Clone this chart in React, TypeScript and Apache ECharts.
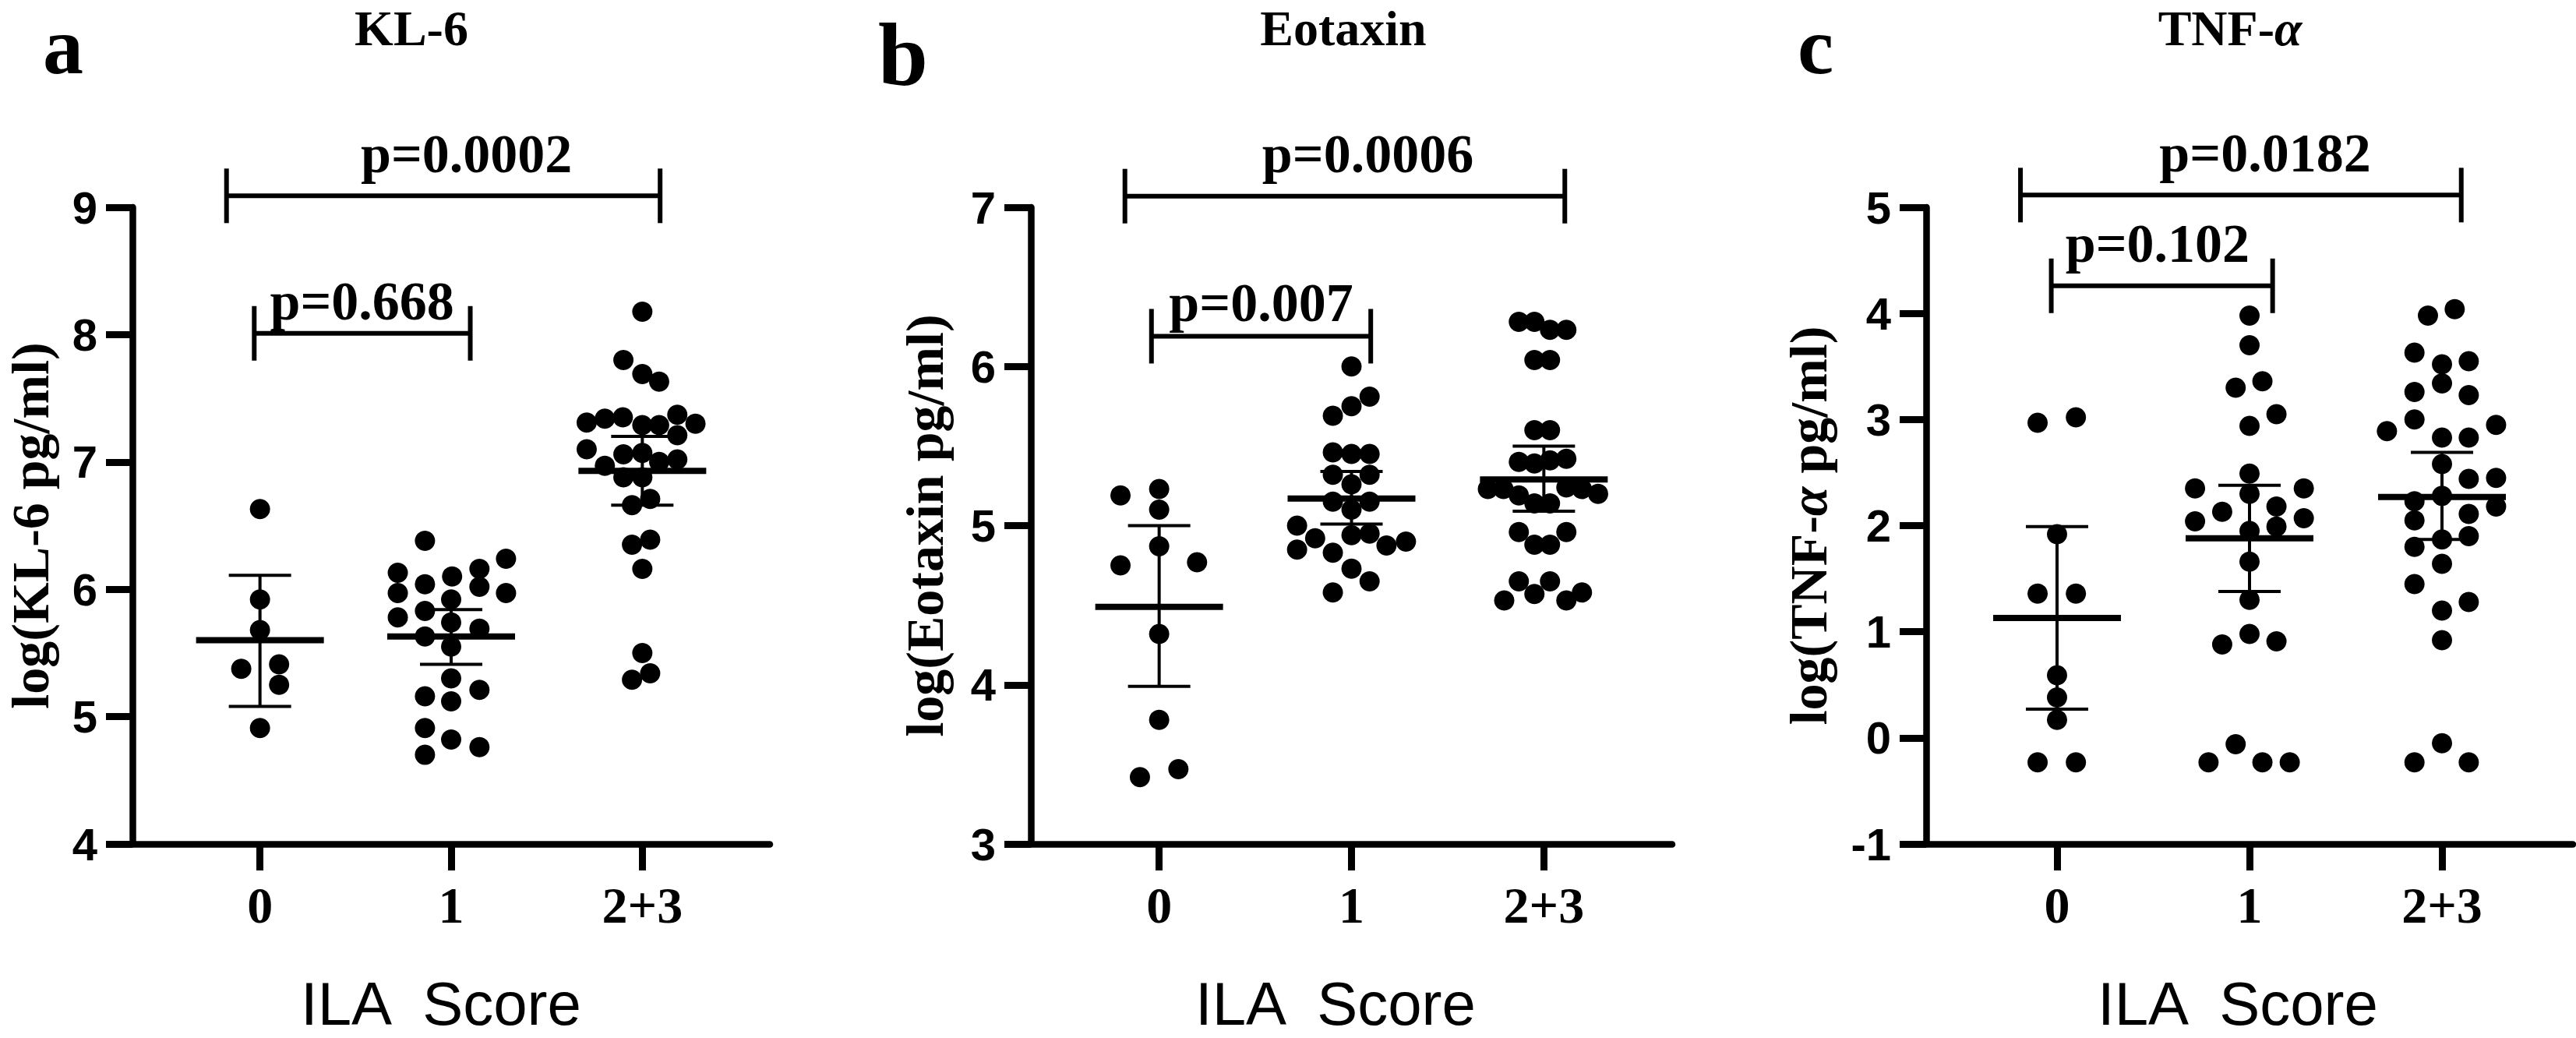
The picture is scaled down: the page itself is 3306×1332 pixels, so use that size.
import React, { useEffect, useRef } from "react";
import * as echarts from "echarts";

// ---------- shared ----------
const categories = ["0", "1", "2+3"];
const SERIF = '"Liberation Serif", "Times New Roman", serif';
const SANS = '"Liberation Sans", Arial, sans-serif';

// ---------- Panel a : KL-6 ----------
const kl6G0Values = [6.63, 5.92, 5.68, 5.375, 5.41, 5.25, 4.91];
const kl6G0Jitter = [0, 0, 0, -0.098, 0.1, 0.1, 0];
const kl6G1Values = [6.38, 6.24, 6.13, 6.16, 6.1, 6.04, 5.97, 6.02, 5.97, 5.92, 5.83, 5.78, 5.74, 5.69, 5.63, 5.55, 5.3, 5.21, 5.16, 5.12, 4.91, 4.82, 4.76, 4.7];
const kl6G1Jitter = [-0.137, 0.287, -0.279, 0.148, 0.005, -0.137, -0.279, 0.148, 0.287, 0, -0.137, -0.279, 0, 0.148, -0.137, 0, 0, 0.148, -0.137, 0, -0.137, 0, 0.148, -0.137];
const kl6G2Values = [8.18, 7.8, 7.69, 7.63, 7.31, 7.34, 7.35, 7.29, 7.29, 7.37, 7.3, 7.21, 7.1, 7.06, 7.07, 6.97, 7.0, 7.02, 6.88, 6.88, 6.71, 6.66, 6.39, 6.35, 6.16, 5.5, 5.34, 5.29];
const kl6G2Jitter = [0, -0.099, 0, 0.088, -0.291, -0.196, -0.102, 0, 0.088, 0.183, 0.278, 0.183, -0.291, -0.099, 0, -0.196, 0.088, 0.183, -0.099, 0, 0.041, -0.054, 0.041, -0.054, 0, 0, 0.041, -0.054];
const kl6Mean = [5.6, 5.63, 6.93];
const kl6SdHigh = [6.11, 5.84, 7.2];
const kl6SdLow = [5.08, 5.41, 6.66];
const kl6PLabels = ["p=0.668", "p=0.0002"];
const kl6BracketFrom = [-0.03, -0.175];
const kl6BracketTo = [1.1, 2.093];
const kl6BracketY = [8.01, 9.09];
const kl6PTextX = [0.534, 1.08];
const kl6PTextY = [8.263, 9.419];

// ---------- Panel b : Eotaxin ----------
const eoG0Values = [5.19, 5.23, 5.1, 4.87, 4.75, 4.77, 4.32, 3.78, 3.42, 3.47];
const eoG0Jitter = [-0.201, 0, 0, 0, -0.201, 0.197, 0, 0, -0.1, 0.1];
const eoG1Values = [6.0, 5.81, 5.75, 5.69, 5.46, 5.45, 5.45, 5.32, 5.32, 5.26, 5.15, 5.15, 5.1, 5.0, 4.94, 4.95, 4.92, 4.85, 4.875, 4.9, 4.83, 4.73, 4.65, 4.58];
const eoG1Jitter = [0, 0.094, 0, -0.097, -0.097, 0, 0.094, -0.097, 0.094, 0, -0.097, 0.094, 0, -0.283, 0, 0.094, -0.189, -0.283, 0.182, 0.283, -0.097, 0, 0.094, -0.097];
const eoG2Values = [6.28, 6.28, 6.23, 6.23, 6.04, 6.04, 5.6, 5.6, 5.4, 5.39, 5.41, 5.42, 5.23, 5.23, 5.19, 5.24, 5.23, 5.2, 5.14, 5.14, 4.96, 4.96, 4.88, 4.88, 4.65, 4.65, 4.53, 4.57, 4.53, 4.58];
const eoG2Jitter = [-0.13, -0.049, 0.032, 0.117, -0.049, 0.032, -0.049, 0.032, -0.13, -0.049, 0.032, 0.117, -0.291, -0.21, -0.13, 0.117, 0.198, 0.282, -0.049, 0.032, -0.13, 0.117, -0.049, 0.032, -0.13, 0.032, -0.206, -0.049, 0.117, 0.198];
const eoMean = [4.49, 5.17, 5.29];
const eoSdHigh = [5.0, 5.34, 5.5];
const eoSdLow = [3.99, 5.01, 5.09];
const eoPLabels = ["p=0.007", "p=0.0006"];
const eoBracketFrom = [-0.04, -0.178];
const eoBracketTo = [1.1, 2.109];
const eoBracketY = [6.19, 7.07];
const eoPTextX = [0.53, 1.085];
const eoPTextY = [6.4, 7.335];

// ---------- Panel c : TNF-α ----------
const tnfG0Values = [2.97, 3.02, 1.92, 1.36, 1.36, 0.59, 0.38, 0.17, -0.23, -0.23];
const tnfG0Jitter = [-0.101, 0.098, 0, -0.101, 0.098, 0, 0, 0, -0.101, 0.098];
const tnfG1Values = [3.98, 3.7, 3.3, 3.36, 2.94, 3.05, 2.49, 2.3, 2.35, 2.35, 2.13, 2.18, 2.04, 2.07, 1.99, 1.95, 1.66, 1.3, 0.88, 0.98, 0.91, -0.06, -0.23, -0.23, -0.23];
const tnfG1Jitter = [0, 0, -0.072, 0.067, 0, 0.14, 0, 0, -0.283, 0.282, -0.142, 0.14, -0.283, 0.282, 0.14, 0, 0, 0, -0.142, 0, 0.14, -0.072, -0.213, 0.067, 0.209];
const tnfG2Values = [3.98, 4.04, 3.63, 3.52, 3.55, 3.34, 3.26, 3.23, 3.0, 2.89, 2.83, 2.83, 2.95, 2.58, 2.44, 2.45, 2.28, 2.23, 2.18, 2.11, 2.05, 1.87, 1.9, 1.8, 1.64, 1.45, 1.28, 1.2, 0.92, -0.05, -0.23, -0.23];
const tnfG2Jitter = [-0.073, 0.066, -0.143, 0, 0.139, 0, -0.143, 0.139, -0.143, -0.286, 0, 0.139, 0.281, 0, 0.139, 0.281, 0, -0.143, 0.281, 0.139, -0.143, 0, 0.139, -0.143, 0, -0.143, 0.139, 0, 0, 0, -0.143, 0.139];
const tnfMean = [1.13, 1.88, 2.27];
const tnfSdHigh = [1.99, 2.38, 2.69];
const tnfSdLow = [0.27, 1.38, 1.87];
const tnfPLabels = ["p=0.102", "p=0.0182"];
const tnfBracketFrom = [-0.03, -0.19];
const tnfBracketTo = [1.12, 2.1];
const tnfBracketY = [4.26, 5.115];
const tnfPTextX = [0.522, 1.081];
const tnfPTextY = [4.66, 5.51];

// ---------- assemble ----------
type Panel = {
  letter: string;
  letterPos: [number, number];
  letterSize: number;
  title: string;
  titlePos: [number, number];
  yName: string;
  yMin: number;
  yMax: number;
  xMin: number;
  xMax: number;
  left: number;
  width: number;
  nameGap: number;
  xNamePos: [number, number];
  groups: { values: number[]; jitter: number[] }[];
  mean: number[];
  sdHigh: number[];
  sdLow: number[];
  pLabels: string[];
  bFrom: number[];
  bTo: number[];
  bY: number[];
  pX: number[];
  pY: number[];
};

const panels: Panel[] = [
  {
    letter: "a", letterPos: [81, 58], letterSize: 104, title: "KL-6", titlePos: [528, 36],
    yName: "log(KL-6 pg/ml)", yMin: 4, yMax: 9, xMin: -0.667, xMax: 2.667,
    left: 170, width: 818, nameGap: 97, xNamePos: [566, 1288],
    groups: [
      { values: kl6G0Values, jitter: kl6G0Jitter },
      { values: kl6G1Values, jitter: kl6G1Jitter },
      { values: kl6G2Values, jitter: kl6G2Jitter },
    ],
    mean: kl6Mean, sdHigh: kl6SdHigh, sdLow: kl6SdLow,
    pLabels: kl6PLabels, bFrom: kl6BracketFrom, bTo: kl6BracketTo, bY: kl6BracketY, pX: kl6PTextX, pY: kl6PTextY,
  },
  {
    letter: "b", letterPos: [1159, 70], letterSize: 115, title: "Eotaxin", titlePos: [1724, 36],
    yName: "log(Eotaxin pg/ml)", yMin: 3, yMax: 7, xMin: -0.667, xMax: 2.667,
    left: 1323, width: 823, nameGap: 102, xNamePos: [1714, 1288],
    groups: [
      { values: eoG0Values, jitter: eoG0Jitter },
      { values: eoG1Values, jitter: eoG1Jitter },
      { values: eoG2Values, jitter: eoG2Jitter },
    ],
    mean: eoMean, sdHigh: eoSdHigh, sdLow: eoSdLow,
    pLabels: eoPLabels, bFrom: eoBracketFrom, bTo: eoBracketTo, bY: eoBracketY, pX: eoPTextX, pY: eoPTextY,
  },
  {
    letter: "c", letterPos: [2330, 58], letterSize: 104, title: "TNF-{i|α}", titlePos: [2862, 36],
    yName: "log(TNF-{i|α} pg/ml)", yMin: -1, yMax: 5, xMin: -0.68, xMax: 2.68,
    left: 2472, width: 830, nameGap: 117, xNamePos: [2872, 1288],
    groups: [
      { values: tnfG0Values, jitter: tnfG0Jitter },
      { values: tnfG1Values, jitter: tnfG1Jitter },
      { values: tnfG2Values, jitter: tnfG2Jitter },
    ],
    mean: tnfMean, sdHigh: tnfSdHigh, sdLow: tnfSdLow,
    pLabels: tnfPLabels, bFrom: tnfBracketFrom, bTo: tnfBracketTo, bY: tnfBracketY, pX: tnfPTextX, pY: tnfPTextY,
  },
];

const GRID_TOP = 266;
const GRID_HEIGHT = 817;

function centeredText(text: string, x: number, y: number, extra: any) {
  return {
    type: "text",
    x,
    y,
    style: {
      text,
      fill: "#000",
      align: "center",
      verticalAlign: "middle",
      textAlign: "center",
      textVerticalAlign: "middle",
      ...extra,
    },
  };
}

function buildOption() {
  const grid: any[] = [];
  const xAxis: any[] = [];
  const yAxis: any[] = [];
  const series: any[] = [];
  const graphic: any[] = [];

  panels.forEach((p, i) => {
    grid.push({ left: p.left, top: GRID_TOP, width: p.width, height: GRID_HEIGHT, containLabel: false });

    xAxis.push({
      gridIndex: i,
      type: "value",
      min: p.xMin,
      max: p.xMax,
      axisLine: { show: true, onZero: false, lineStyle: { color: "#000", width: 8.5 } },
      axisTick: { show: true, length: 34, lineStyle: { color: "#000", width: 9 }, customValues: [0, 1, 2] },
      axisLabel: {
        customValues: [0, 1, 2],
        formatter: (v: number) => categories[Math.round(v)] ?? "",
        fontFamily: SERIF,
        fontWeight: "bold",
        fontSize: 66,
        color: "#000",
        margin: 45,
      },
      splitLine: { show: false },
    });

    yAxis.push({
      gridIndex: i,
      type: "value",
      min: p.yMin,
      max: p.yMax,
      interval: 1,
      name: p.yName,
      nameLocation: "middle",
      nameGap: p.nameGap,
      nameTextStyle: {
        fontFamily: SERIF,
        fontWeight: "bold",
        fontSize: 68,
        color: "#000",
        rich: { i: { fontFamily: SERIF, fontWeight: "bold", fontStyle: "italic", fontSize: 68, color: "#000" } },
      },
      axisLine: { show: true, onZero: false, lineStyle: { color: "#000", width: 8.5 } },
      axisTick: { show: true, length: 34, lineStyle: { color: "#000", width: 9 } },
      axisLabel: { fontFamily: SANS, fontWeight: "bold", fontSize: 58, color: "#000", margin: 45 },
      splitLine: { show: false },
    });

    const pts: number[][] = [];
    p.groups.forEach((g, gi) => {
      g.values.forEach((v, k) => pts.push([gi + g.jitter[k], v]));
    });
    series.push({
      type: "scatter",
      xAxisIndex: i,
      yAxisIndex: i,
      data: pts,
      symbol: "circle",
      symbolSize: 26,
      itemStyle: { color: "#000", opacity: 1 },
      emphasis: { disabled: true },
      z: 2,
    });

    series.push({
      type: "custom",
      xAxisIndex: i,
      yAxisIndex: i,
      z: 3,
      data: p.mean.map((m, gi) => [gi, m, p.sdLow[gi], p.sdHigh[gi]]),
      encode: { x: 0, y: [1, 2, 3] },
      renderItem: (_params: any, api: any) => {
        const x = api.value(0);
        const pm = api.coord([x, api.value(1)]);
        const pl = api.coord([x, api.value(2)]);
        const ph = api.coord([x, api.value(3)]);
        const s = { stroke: "#000", lineWidth: 4 };
        return {
          type: "group",
          children: [
            { type: "line", shape: { x1: ph[0], y1: ph[1], x2: pl[0], y2: pl[1] }, style: s },
            { type: "line", shape: { x1: ph[0] - 40, y1: ph[1], x2: ph[0] + 40, y2: ph[1] }, style: s },
            { type: "line", shape: { x1: pl[0] - 40, y1: pl[1], x2: pl[0] + 40, y2: pl[1] }, style: s },
            { type: "line", shape: { x1: pm[0] - 82, y1: pm[1], x2: pm[0] + 82, y2: pm[1] }, style: { stroke: "#000", lineWidth: 8 } },
          ],
        };
      },
    });

    series.push({
      type: "custom",
      xAxisIndex: i,
      yAxisIndex: i,
      z: 3,
      clip: false,
      data: p.bY.map((y, k) => [p.bFrom[k], y, p.bTo[k], p.pX[k], p.pY[k]]),
      encode: { x: [0, 2, 3], y: [1, 4] },
      renderItem: (params: any, api: any) => {
        const a = api.coord([api.value(0), api.value(1)]);
        const b = api.coord([api.value(2), api.value(1)]);
        const t = api.coord([api.value(3), api.value(4)]);
        const s = { stroke: "#000", lineWidth: 6 };
        return {
          type: "group",
          children: [
            { type: "line", shape: { x1: a[0], y1: a[1], x2: b[0], y2: b[1] }, style: s },
            { type: "line", shape: { x1: a[0], y1: a[1] - 35, x2: a[0], y2: a[1] + 35 }, style: s },
            { type: "line", shape: { x1: b[0], y1: b[1] - 35, x2: b[0], y2: b[1] + 35 }, style: s },
            centeredText(p.pLabels[params.dataIndex], t[0], t[1], {
              fontFamily: SERIF,
              fontWeight: "bold",
              fontSize: 70,
            }),
          ],
        };
      },
    });

    graphic.push(
      centeredText(p.letter, p.letterPos[0], p.letterPos[1], {
        fontFamily: SERIF,
        fontWeight: "bold",
        fontSize: p.letterSize,
      })
    );
    graphic.push(
      centeredText(p.title, p.titlePos[0], p.titlePos[1], {
        fontFamily: SERIF,
        fontWeight: "bold",
        fontSize: 64,
        rich: { i: { fontFamily: SERIF, fontWeight: "bold", fontStyle: "italic", fontSize: 64, fill: "#000" } },
      })
    );
    graphic.push(
      centeredText("ILA  Score", p.xNamePos[0], p.xNamePos[1], {
        fontFamily: SANS,
        fontSize: 78,
      })
    );
  });

  return {
    animation: false,
    backgroundColor: "#fff",
    grid,
    xAxis,
    yAxis,
    series,
    graphic,
  };
}

export default function App() {
  const ref = useRef<HTMLDivElement>(null);
  useEffect(() => {
    if (!ref.current) return;
    const chart = echarts.init(ref.current, null, { renderer: "svg", width: 3306, height: 1332 });
    chart.setOption(buildOption() as any);
    return () => chart.dispose();
  }, []);
  return (
    <div
      ref={ref}
      style={{ position: "absolute", left: 0, top: 0, width: 3306, height: 1332, background: "#fff" }}
    />
  );
}
